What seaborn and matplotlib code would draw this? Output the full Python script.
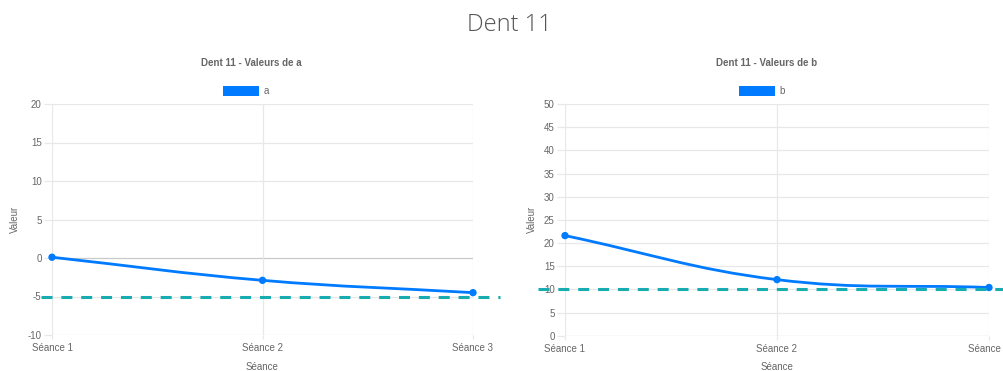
import numpy as np
import pandas as pd
import matplotlib
matplotlib.use("Agg")
import matplotlib.pyplot as plt
from matplotlib.path import Path
from matplotlib.patches import PathPatch, Patch
import seaborn as sns

# ---- data ----
seances = ["Séance 1", "Séance 2", "Séance 3"]
a_values = [0.1, -2.9, -4.5]
b_values = [21.6, 12.1, 10.4]
a_threshold = -5
b_threshold = 10
a_ticks = [-10, -5, 0, 5, 10, 15, 20]
b_ticks = [0, 5, 10, 15, 20, 25, 30, 35, 40, 45, 50]

BLUE = "#007bff"
TEAL = "#17adb0"
GRID = "#e8e8e8"
ZERO = "#c9c9c9"
TEXT = "#666666"

sns.set_theme(style="white")
plt.rcParams["font.family"] = ["Liberation Sans", "DejaVu Sans"]

W, H = 1004, 371
fig = plt.figure(figsize=(W / 100, H / 100), dpi=100)


def px_axes(x0, x1, ytop, ybot):
    return fig.add_axes([x0 / W, 1 - ybot / H, (x1 - x0) / W, (ybot - ytop) / H])


def smooth_path(ax, xs, ys, tension=0.4):
    """Cubic bezier through the points, using Chart.js-style control points."""
    pts = ax.transData.transform(np.column_stack([xs, ys]))
    n = len(pts)
    prev_cp, next_cp = [], []
    for i in range(n):
        p0 = pts[i - 1] if i > 0 else pts[i]
        p1 = pts[i]
        p2 = pts[i + 1] if i < n - 1 else pts[i]
        d01 = np.hypot(*(p1 - p0))
        d12 = np.hypot(*(p2 - p1))
        tot = d01 + d12
        s01 = d01 / tot if tot else 0
        s12 = d12 / tot if tot else 0
        prev_cp.append(p1 - tension * s01 * (p2 - p0))
        next_cp.append(p1 + tension * s12 * (p2 - p0))
    verts = [pts[0]]
    codes = [Path.MOVETO]
    for i in range(n - 1):
        verts += [next_cp[i], prev_cp[i + 1], pts[i + 1]]
        codes += [Path.CURVE4] * 3
    verts = ax.transData.inverted().transform(np.array(verts))
    return Path(verts, codes)


def draw_panel(ax, values, threshold, ticks, series, subtitle, title_x, legend_x,
               thr_span, ylabel_x):
    df = pd.DataFrame({"idx": np.arange(len(seances)), "seance": seances, "val": values})
    ax.set_xlim(0, len(seances) - 1)
    ax.set_ylim(ticks[0], ticks[-1])

    # grid
    for t in ticks:
        ax.axhline(t, color=ZERO if t == 0 else GRID, lw=0.9, zorder=0)
    for i in range(len(seances)):
        ax.axvline(i, color=GRID, lw=0.9, zorder=0)
    for s in ax.spines.values():
        s.set_visible(False)

    # smoothed line + points
    path = smooth_path(ax, df["idx"].values, df["val"].values)
    ax.add_patch(PathPatch(path, facecolor="none", edgecolor=BLUE, lw=2.0, zorder=3,
                           capstyle="round", joinstyle="round"))
    sns.scatterplot(data=df, x="idx", y="val", color=BLUE, s=28, edgecolor="none",
                    zorder=4, ax=ax, legend=False, clip_on=False)

    # threshold line
    ax.plot(thr_span, [threshold, threshold], color=TEAL, lw=2.2,
            linestyle=(0, (3.6, 2.9)), transform=ax.get_yaxis_transform(),
            clip_on=False, zorder=5)

    ax.set_xticks(range(len(seances)))
    ax.set_xticklabels(seances)
    ax.set_yticks(ticks)
    ax.set_yticklabels([str(t) for t in ticks])
    ax.tick_params(axis="y", labelsize=7, colors=TEXT, length=6, width=0.9,
                   color=GRID, pad=1.5, left=True)
    ax.tick_params(axis="x", labelsize=7, colors=TEXT, length=3, width=0.9,
                   color=GRID, pad=3, bottom=True)

    ax.set_xlabel("Séance", fontsize=7, color=TEXT)
    ax.xaxis.set_label_coords(0.5, -0.115)
    ax.set_ylabel("Valeur", fontsize=7, color=TEXT)
    ax.yaxis.set_label_coords(ylabel_x, 0.5)

    fig.text(title_x / W, 1 - 63 / H, subtitle, ha="center", va="center",
             fontsize=7, fontweight="bold", color=TEXT)
    fig.legend(handles=[Patch(facecolor=BLUE, edgecolor="none")], labels=[series],
               loc="center", bbox_to_anchor=(legend_x / W, 1 - 91 / H),
               bbox_transform=fig.transFigure, frameon=False, fontsize=7,
               labelcolor=TEXT, handlelength=3.7, handleheight=1.25,
               handletextpad=0.45, borderpad=0, borderaxespad=0)


ax1 = px_axes(52, 473, 104, 335)
ax2 = px_axes(565, 989, 104, 335.7)

draw_panel(ax1, a_values, a_threshold, a_ticks, "a", "Dent 11 - Valeurs de a",
           251, 246, [-0.025, 1.065], -0.075)
draw_panel(ax2, b_values, b_threshold, b_ticks, "b", "Dent 11 - Valeurs de b",
           767, 762, [-0.064, 1.1], -0.067)

fig.text(509 / W, 1 - 25 / H, "Dent 11", ha="center", va="center", fontsize=17,
         fontweight="light", color="#555555", family=["Open Sans", "DejaVu Sans"])

fig.savefig("out.png", dpi=100, facecolor="white")
